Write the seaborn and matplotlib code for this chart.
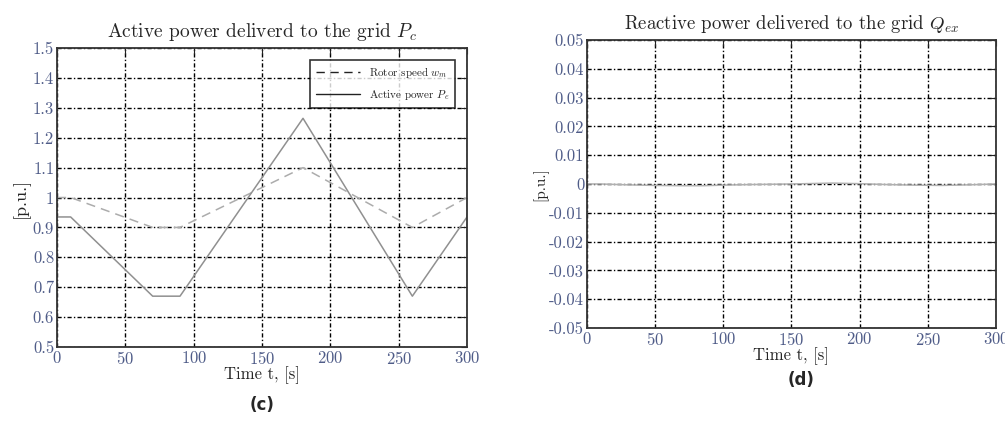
import numpy as np
import pandas as pd
import matplotlib
matplotlib.use('Agg')
import matplotlib.pyplot as plt
from matplotlib.lines import Line2D
import seaborn as sns

# ---- data ----
t_c = [0, 10, 70, 90, 180, 260, 300]
rotor_speed = [1.0, 1.0, 0.9, 0.9, 1.1, 0.9, 1.0]
active_power = [0.935, 0.935, 0.67, 0.67, 1.265, 0.67, 0.935]

t_d = [0, 10, 30, 50, 70, 85, 100, 120, 150, 170, 180, 200, 220, 240, 260, 280, 300]
reactive_power = [0.0, 0.0, -0.0003, -0.0005, -0.0006, -0.0006, -0.0004, -0.0002, 0.0,
                  0.0002, 0.0003, 0.0001, -0.0002, -0.0004, -0.0005, -0.0003, 0.0]

x_ticks = [0, 50, 100, 150, 200, 250, 300]
y_ticks_c = [0.5, 0.6, 0.7, 0.8, 0.9, 1.0, 1.1, 1.2, 1.3, 1.4, 1.5]
y_ticks_d = [-0.05, -0.04, -0.03, -0.02, -0.01, 0, 0.01, 0.02, 0.03, 0.04, 0.05]

df_c = pd.DataFrame({'t': t_c, 'w': rotor_speed, 'p': active_power})
df_d = pd.DataFrame({'t': t_d, 'q': reactive_power})

sns.set_style('white')
plt.rcParams['font.family'] = ['cmr10', 'DejaVu Serif']
plt.rcParams['mathtext.fontset'] = 'cm'
plt.rcParams['axes.formatter.use_mathtext'] = True

TICK_COL = '#4f5c88'
GRID_LS = (0, (3, 1.6, 1, 1.6))

fig = plt.figure(figsize=(10.05, 4.21), dpi=100)
ax1 = fig.add_axes([0.0567, 0.1758, 0.408, 0.710])
ax2 = fig.add_axes([0.584, 0.221, 0.407, 0.684])


def style(ax):
    ax.set_xlim(0, 300)
    ax.set_xticks(x_ticks)
    ax.grid(True, color='black', linestyle=GRID_LS, linewidth=1.0)
    ax.tick_params(direction='in', top=True, right=True, length=4,
                   labelsize=12, labelcolor=TICK_COL, color='#222', pad=2)
    for s in ax.spines.values():
        s.set_edgecolor('#333')
        s.set_linewidth(1.3)


# --- (c) active power ---
sns.lineplot(data=df_c, x='t', y='w', ax=ax1, color='#acacac',
             linestyle=(0, (6, 4)), linewidth=1.1)
sns.lineplot(data=df_c, x='t', y='p', ax=ax1, color='#909090', linewidth=1.1)
style(ax1)
ax1.set_ylim(0.5, 1.5)
ax1.set_yticks(y_ticks_c)
ax1.set_yticklabels(['0.5', '0.6', '0.7', '0.8', '0.9', '1', '1.1', '1.2', '1.3', '1.4', '1.5'])
ax1.set_title(r'Active power deliverd to the grid $P_c$', fontsize=14, pad=8)
ax1.set_xlabel('Time t, [s]', fontsize=12, labelpad=0)
ax1.set_ylabel('[p.u.]', fontsize=13, labelpad=2)
handles = [Line2D([], [], color='#222', linestyle=(0, (6, 4)), linewidth=1),
           Line2D([], [], color='#222', linewidth=1)]
leg = ax1.legend(handles, [r'Rotor speed $w_m$', r'Active power $P_e$'],
                 loc='upper right', bbox_to_anchor=(0.985, 0.98), fontsize=8,
                 frameon=True, fancybox=False, edgecolor='black',
                 handlelength=4, borderpad=0.5, labelspacing=0.7)
leg.get_frame().set_linewidth(1.2)
fig.text(0.261, 0.025, '(c)', ha='center', fontsize=12, fontweight='bold',
         family='DejaVu Sans')

# --- (d) reactive power ---
sns.lineplot(data=df_d, x='t', y='q', ax=ax2, color='#b0b0b0', linewidth=1.1)
style(ax2)
ax2.set_ylim(-0.05, 0.05)
ax2.set_yticks(y_ticks_d)
ax2.set_yticklabels(['-0.05', '-0.04', '-0.03', '-0.02', '-0.01', '0',
                     '0.01', '0.02', '0.03', '0.04', '0.05'])
ax2.set_title(r'Reactive power delivered to the grid $Q_{ex}$', fontsize=13.5, pad=8)
ax2.set_xlabel('Time t, [s]', fontsize=12, labelpad=0)
ax2.set_ylabel('[p.u.]', fontsize=11, labelpad=1)
fig.text(0.797, 0.085, '(d)', ha='center', fontsize=12, fontweight='bold',
         family='DejaVu Sans')

fig.savefig('out.png', dpi=100)
